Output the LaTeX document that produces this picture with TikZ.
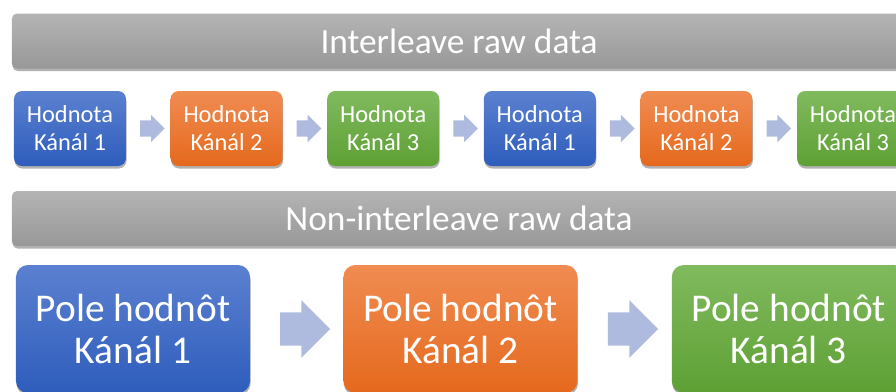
\documentclass[tikz,border=0pt]{standalone}
\usepackage{fontspec}
\setmainfont{Carlito}
\usetikzlibrary{positioning,calc,shapes.arrows,shadows}

% box colours (top / bottom of the gradient)
\definecolor{graytop}{HTML}{B4B4B4}
\definecolor{graybot}{HTML}{989898}
\definecolor{bluetop}{HTML}{5B80D0}
\definecolor{bluebot}{HTML}{2E5DBC}
\definecolor{orangetop}{HTML}{F08C52}
\definecolor{orangebot}{HTML}{E5691D}
\definecolor{greentop}{HTML}{80BA5E}
\definecolor{greenbot}{HTML}{5EA034}
\definecolor{arrowcol}{HTML}{AEBBDF}

\tikzset{
    softshadow/.style={drop shadow={shadow xshift=0.5bp, shadow yshift=-2.5bp, opacity=0.3, fill=black}},
    banner/.style={rounded corners=5bp, top color=graytop, bottom color=graybot, minimum width=894bp, minimum height=55bp, inner sep=0, text=white, font=\fontsize{35.5}{40}\selectfont, softshadow},
    valbox/.style={rounded corners=8bp, minimum width=112bp, minimum height=75bp, inner sep=0, align=center, text=white, font=\fontsize{24.5}{28}\selectfont, softshadow},
    arraybox/.style={rounded corners=12bp, minimum width=234bp, minimum height=128bp, inner sep=0, align=center, text=white, font=\fontsize{39.5}{42}\selectfont, softshadow},
    bluefill/.style={top color=bluetop, bottom color=bluebot},
    orangefill/.style={top color=orangetop, bottom color=orangebot},
    greenfill/.style={top color=greentop, bottom color=greenbot},
    smallarr/.style={single arrow, fill=arrowcol, draw=none, inner sep=8bp, minimum height=24bp, minimum width=27bp, single arrow head extend=5.5bp},
    bigarr/.style={single arrow, fill=arrowcol, draw=none, inner sep=16.5bp, minimum height=50bp, minimum width=57bp, single arrow head extend=12bp}
}

\begin{document}
\begin{tikzpicture}[x=1bp, y=-1bp]
    \useasboundingbox (0,0) rectangle (896,391);

    % Interleaved values
    \node[banner] (il) at (459,41) {Interleave raw data};

    \node[valbox, bluefill] (h1) at (70,128.5) {Hodnota\\Kánál 1};
    \node[valbox, orangefill, right=44.2bp of h1] (h2) {Hodnota\\Kánál 2};
    \node[valbox, greenfill, right=44.2bp of h2] (h3) {Hodnota\\Kánál 3};
    \node[valbox, bluefill, right=44.2bp of h3] (h4) {Hodnota\\Kánál 1};
    \node[valbox, orangefill, right=44.2bp of h4] (h5) {Hodnota\\Kánál 2};
    \node[valbox, greenfill, right=44.2bp of h5] (h6) {Hodnota\\Kánál 3};

    % Block arrows between the values
    \node[smallarr] (a12) at ($(h1.east)!0.5!(h2.west)$) {};
    \node[smallarr] (a23) at ($(h2.east)!0.5!(h3.west)$) {};
    \node[smallarr] (a34) at ($(h3.east)!0.5!(h4.west)$) {};
    \node[smallarr] (a45) at ($(h4.east)!0.5!(h5.west)$) {};
    \node[smallarr] (a56) at ($(h5.east)!0.5!(h6.west)$) {};

    % Non-interleaved arrays
    \node[banner] (nil) at (459,218.5) {Non-interleave raw data};

    \node[arraybox, bluefill] (p1) at (133,329) {Pole hodnôt\\Kánál 1};
    \node[arraybox, orangefill, right=93bp of p1] (p2) {Pole hodnôt\\Kánál 2};
    \node[arraybox, greenfill, right=94bp of p2] (p3) {Pole hodnôt\\Kánál 3};

    \node[bigarr] (b12) at ($(p1.east)!0.5!(p2.west)$) {};
    \node[bigarr] (b23) at ($(p2.east)!0.5!(p3.west)$) {};

\end{tikzpicture}
\end{document}
